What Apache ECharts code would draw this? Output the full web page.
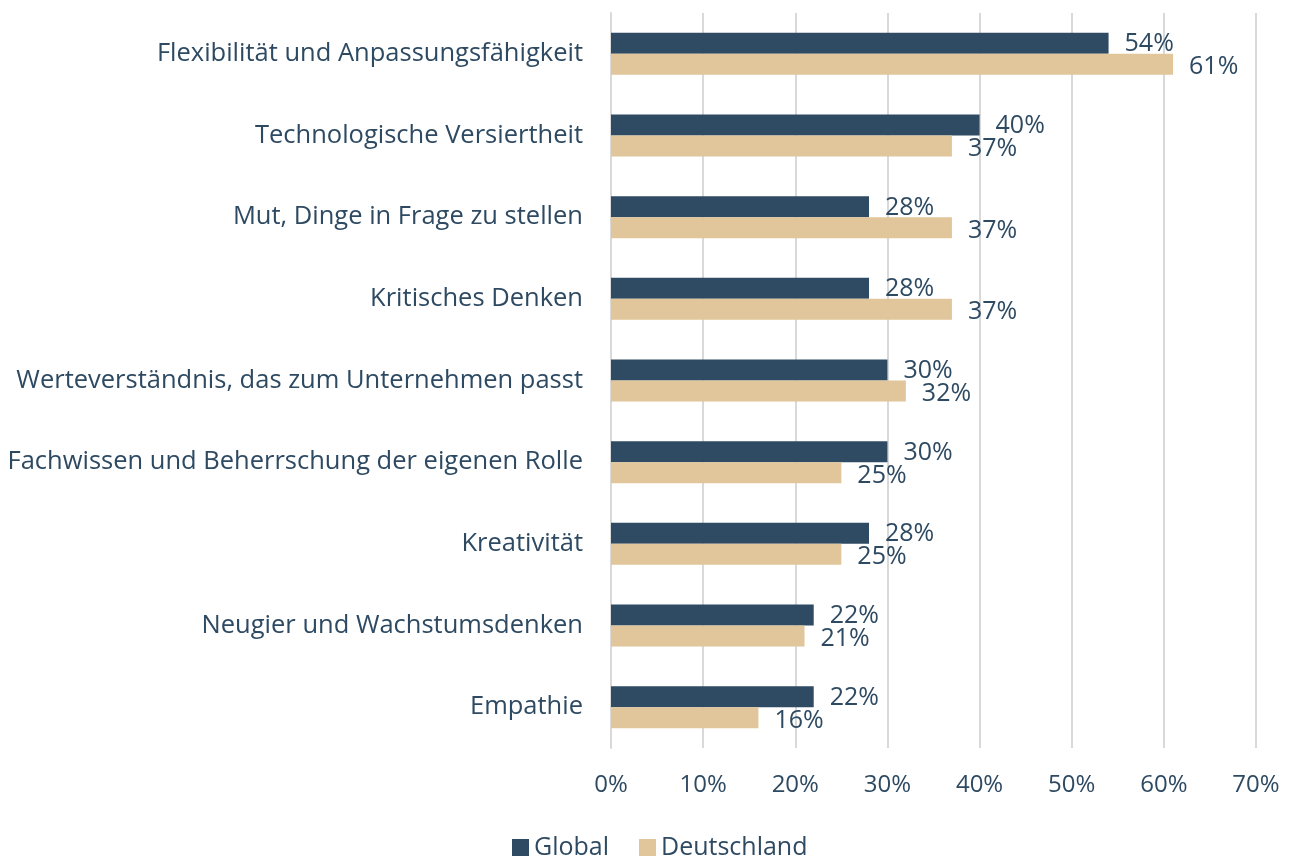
<!DOCTYPE html>
<html>
<head>
<meta charset="utf-8">
<script src="https://cdn.jsdelivr.net/npm/echarts@6/dist/echarts.min.js"></script>
<style>
    html, body { margin: 0; padding: 0; background: #fff; }
    #chart_skills { width: 1294px; height: 857px; }
</style>
</head>
<body>
<div id="chart_skills"></div>
<script>
    // Kategorien (oben nach unten)
    var categories = ['Flexibilität und Anpassungsfähigkeit', 'Technologische Versiertheit', 'Mut, Dinge in Frage zu stellen',
        'Kritisches Denken', 'Werteverständnis, das zum Unternehmen passt', 'Fachwissen und Beherrschung der eigenen Rolle',
        'Kreativität', 'Neugier und Wachstumsdenken', 'Empathie'];
    var globalValues = [54, 40, 28, 28, 30, 30, 28, 22, 22];
    var deutschlandValues = [61, 37, 37, 37, 32, 25, 25, 21, 16];
    var xTicks = [0, 10, 20, 30, 40, 50, 60, 70];

    var textColor = '#2E4A62';
    var font = 'Open Sans';

    var chart1 = echarts.init(document.getElementById('chart_skills'));

    var option = {
        animation: false,
        textStyle: { fontFamily: font },
        grid: {
            left: 611,
            right: 38,
            top: 13,
            bottom: 109
        },
        legend: {
            top: 830,
            left: 507,
            itemWidth: 17,
            itemHeight: 17,
            itemGap: 30,
            itemTextGap: 7,
            icon: 'rect',
            textStyle: { color: textColor, fontSize: 25, fontFamily: font },
            data: ['Global', 'Deutschland']
        },
        xAxis: {
            type: 'value',
            min: xTicks[0],
            max: xTicks[xTicks.length - 1],
            interval: 10,
            axisLine: { show: false },
            axisTick: { show: false },
            splitLine: { lineStyle: { color: '#D9D9D9', width: 2 } },
            axisLabel: {
                color: textColor,
                fontSize: 24,
                margin: 25,
                formatter: '{value}%'
            }
        },
        yAxis: {
            type: 'category',
            inverse: true,
            data: categories,
            axisLine: { show: true, lineStyle: { color: '#D9D9D9', width: 2 } },
            axisTick: { show: false },
            axisLabel: {
                color: textColor,
                fontSize: 25.5,
                margin: 28
            }
        },
        series: [
            {
                name: 'Global',
                type: 'bar',
                data: globalValues,
                barWidth: 21,
                barGap: '0%',
                itemStyle: { color: '#2F4A63' },
                label: {
                    show: true,
                    position: 'right',
                    distance: 16,
                    offset: [0, 1],
                    color: textColor,
                    fontSize: 25,
                    formatter: '{c}%'
                }
            },
            {
                name: 'Deutschland',
                type: 'bar',
                data: deutschlandValues,
                barWidth: 21,
                barGap: '0%',
                itemStyle: { color: '#E0C69A' },
                label: {
                    show: true,
                    position: 'right',
                    distance: 16,
                    offset: [0, 3],
                    color: textColor,
                    fontSize: 25,
                    formatter: '{c}%'
                }
            }
        ]
    };

    chart1.setOption(option);
</script>
</body>
</html>
